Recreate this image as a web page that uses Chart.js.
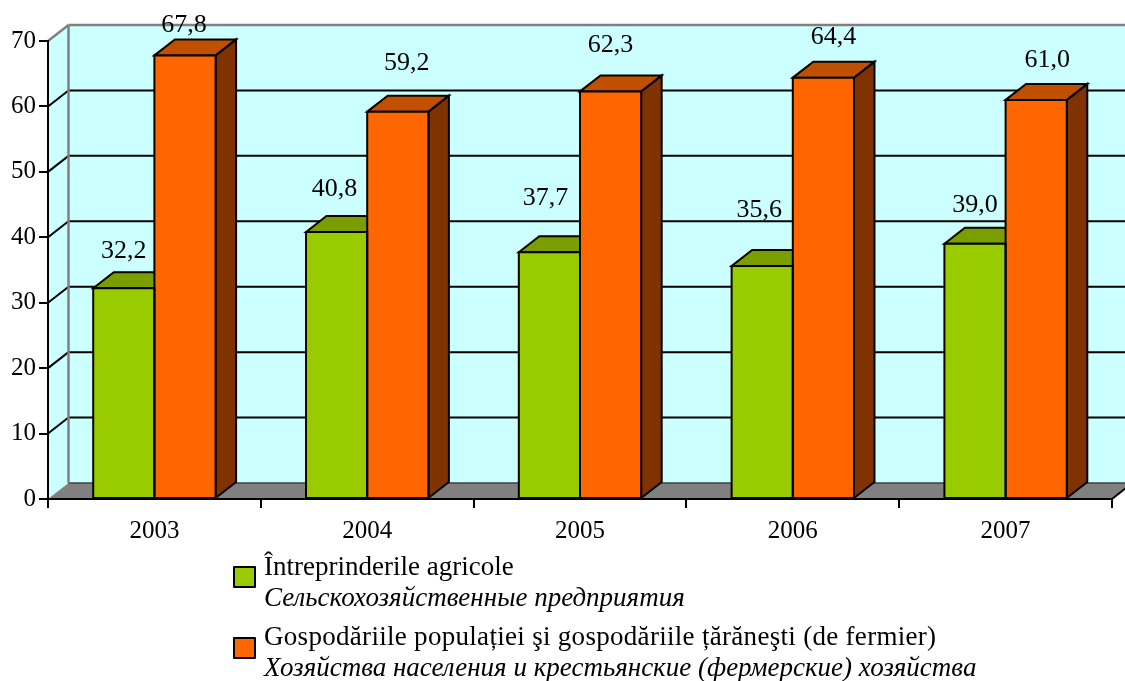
<!DOCTYPE html>
<html>
<head>
<meta charset="utf-8">
<script src="https://cdn.jsdelivr.net/npm/chart.js@4"></script>
<style>
    html, body { margin: 0; padding: 0; background: #fff; }
    #wrap { position: relative; width: 1125px; height: 681px; overflow: hidden; }
    canvas { display: block; }
    .legend-box {
        position: absolute; left: 233px; width: 19px; height: 18px;
        border: 2px solid #000; border-radius: 1px;
    }
    .legend-text {
        position: absolute; left: 264px; white-space: nowrap; color: #000;
        font-family: "Liberation Serif", serif; font-size: 27px; line-height: 31px;
    }
    .legend-text i { display: block; }
    .legend-text span { display: block; }
</style>
</head>
<body>
<div id="wrap">
    <canvas id="chart" width="1125" height="681"></canvas>
    <div id="legend"></div>
</div>
<script>
const years = ["2003", "2004", "2005", "2006", "2007"];
const farms = [32.2, 40.8, 37.7, 35.6, 39.0];
const households = [67.8, 59.2, 62.3, 64.4, 61.0];
const yTicks = [0, 10, 20, 30, 40, 50, 60, 70];
const seriesNames = ["Întreprinderile agricole", "Gospodăriile populației şi gospodăriile țărăneşti (de fermier)"];
const seriesNamesRu = ["Сельскохозяйственные предприятия", "Хозяйства населения и крестьянские (фермерские) хозяйства"];

// value labels were moved by hand in the original, so each one has its own nudge
const farmLabelLift = [37, 43, 54, 56, 39];
const householdLabelLift = [30, 48, 46, 40, 40];
const farmLabelShift = [0, -2, -4, -3, 0];
const householdLabelShift = [-1, 9, 0, 10, 11];

const FONT = "Liberation Serif";
const DEPTH_X = 20.5;
const DEPTH_Y = 16;
const faces = [
    { front: "#99cc00", top: "#7a9e00", side: "#4d7a00", lift: farmLabelLift, shift: farmLabelShift, legendTop: 566, textTop: 551, spacing: 0 },
    { front: "#ff6600", top: "#c05000", side: "#803300", lift: householdLabelLift, shift: householdLabelShift, legendTop: 637, textTop: 621, spacing: 0.3 },
];

function poly(ctx, points, fill, stroke, width) {
    ctx.beginPath();
    points.forEach(([x, y], i) => (i ? ctx.lineTo(x, y) : ctx.moveTo(x, y)));
    ctx.closePath();
    if (fill) {
        ctx.fillStyle = fill;
        ctx.fill();
    }
    if (stroke) {
        ctx.strokeStyle = stroke;
        ctx.lineWidth = width;
        ctx.lineJoin = "miter";
        ctx.stroke();
    }
}

function line(ctx, x1, y1, x2, y2, color, width) {
    ctx.beginPath();
    ctx.moveTo(x1, y1);
    ctx.lineTo(x2, y2);
    ctx.strokeStyle = color;
    ctx.lineWidth = width;
    ctx.stroke();
}

const box3d = {
    id: "box3d",
    beforeDraw(chart) {
        const { ctx, chartArea: a, scales } = chart;
        const backLeft = a.left + DEPTH_X;
        const backRight = a.right + DEPTH_X;
        const backTop = a.top - DEPTH_Y;
        const backBottom = a.bottom - DEPTH_Y;

        ctx.save();
        // back and side walls
        poly(ctx, [[backLeft, backTop], [backRight, backTop], [backRight, backBottom], [backLeft, backBottom]], "#ccffff");
        poly(ctx, [[a.left, a.top], [backLeft, backTop], [backLeft, backBottom], [a.left, a.bottom]], "#ccffff");

        // gridlines run over the side wall and along the back wall
        yTicks.slice(1, -1).forEach((tick) => {
            const y = scales.y.getPixelForValue(tick);
            line(ctx, a.left, y, backLeft, y - DEPTH_Y, "#000", 2);
            line(ctx, backLeft, y - DEPTH_Y, backRight, y - DEPTH_Y, "#000", 2);
        });

        // floor
        poly(ctx, [[a.left, a.bottom], [backLeft, backBottom], [backRight, backBottom], [a.right, a.bottom]], "#808080");
        line(ctx, backLeft, backBottom, backRight, backBottom, "#404040", 1.5);
        line(ctx, a.right, a.bottom, backRight, backBottom, "#000", 2);

        // wall edges
        line(ctx, a.left, a.top, backLeft, backTop, "#808080", 2.5);
        line(ctx, backLeft, backTop, backRight, backTop, "#808080", 2.5);
        line(ctx, backLeft, backTop, backLeft, backBottom, "#808080", 2.5);
        ctx.restore();
    },
    beforeDatasetsDraw(chart) {
        const { ctx } = chart;
        ctx.save();
        faces.forEach((face, i) => {
            chart.getDatasetMeta(i).data.forEach((bar) => {
                const left = bar.x - bar.width / 2;
                const right = bar.x + bar.width / 2;
                poly(ctx, [[right, bar.y], [right + DEPTH_X, bar.y - DEPTH_Y], [right + DEPTH_X, bar.base - DEPTH_Y], [right, bar.base]], face.side, "#000", 2);
                poly(ctx, [[left, bar.y], [left + DEPTH_X, bar.y - DEPTH_Y], [right + DEPTH_X, bar.y - DEPTH_Y], [right, bar.y]], face.top, "#000", 2);
            });
        });
        ctx.restore();
    },
    afterDatasetsDraw(chart) {
        const { ctx } = chart;
        ctx.save();
        // outline on the bar edge itself, so neighbours share one line
        faces.forEach((face, i) => {
            chart.getDatasetMeta(i).data.forEach((bar) => {
                const left = bar.x - bar.width / 2;
                const right = bar.x + bar.width / 2;
                poly(ctx, [[left, bar.y], [right, bar.y], [right, bar.base], [left, bar.base]], null, "#000", 2);
            });
        });
        ctx.font = `26px "${FONT}"`;
        ctx.fillStyle = "#000";
        ctx.textAlign = "center";
        ctx.textBaseline = "middle";
        faces.forEach((face, i) => {
            chart.getDatasetMeta(i).data.forEach((bar, j) => {
                const text = chart.data.datasets[i].data[j].toFixed(1).replace(".", ",");
                ctx.fillText(text, bar.x + face.shift[j], bar.y - face.lift[j]);
            });
        });
        ctx.restore();
    },
};

new Chart(document.getElementById("chart"), {
    type: "bar",
    data: {
        labels: years,
        datasets: [
            { data: farms, backgroundColor: faces[0].front, borderWidth: 0 },
            { data: households, backgroundColor: faces[1].front, borderWidth: 0 },
        ],
    },
    options: {
        responsive: false,
        animation: false,
        layout: { padding: { top: 41, right: 13, bottom: 0, left: 0 } },
        datasets: { bar: { categoryPercentage: 0.575, barPercentage: 1 } },
        plugins: { legend: { display: false }, tooltip: { enabled: false } },
        scales: {
            x: {
                afterFit: (scale) => { scale.height = 182; },
                grid: { drawOnChartArea: false, color: "#000", lineWidth: 2, tickLength: 9, offset: true },
                border: { color: "#000", width: 2 },
                ticks: { color: "#000", font: { family: FONT, size: 25 }, padding: 8, maxRotation: 0 },
            },
            y: {
                min: yTicks[0],
                max: yTicks[yTicks.length - 1],
                afterFit: (scale) => { scale.width = 48; },
                afterBuildTicks: (scale) => { scale.ticks = yTicks.map((value) => ({ value })); },
                grid: { drawOnChartArea: false, color: "#000", lineWidth: 2, tickLength: 9 },
                border: { color: "#000", width: 2 },
                ticks: { color: "#000", font: { family: FONT, size: 25 }, padding: 3 },
            },
        },
    },
    plugins: [box3d],
});

const legend = document.getElementById("legend");
faces.forEach((face, i) => {
    const box = document.createElement("div");
    box.className = "legend-box";
    box.style.top = `${face.legendTop}px`;
    box.style.background = face.front;
    legend.appendChild(box);

    const text = document.createElement("div");
    text.className = "legend-text";
    text.style.top = `${face.textTop}px`;
    const name = document.createElement("span");
    name.textContent = seriesNames[i];
    name.style.letterSpacing = `${face.spacing}px`;
    const nameRu = document.createElement("i");
    nameRu.textContent = seriesNamesRu[i];
    text.append(name, nameRu);
    legend.appendChild(text);
});
</script>
</body>
</html>
